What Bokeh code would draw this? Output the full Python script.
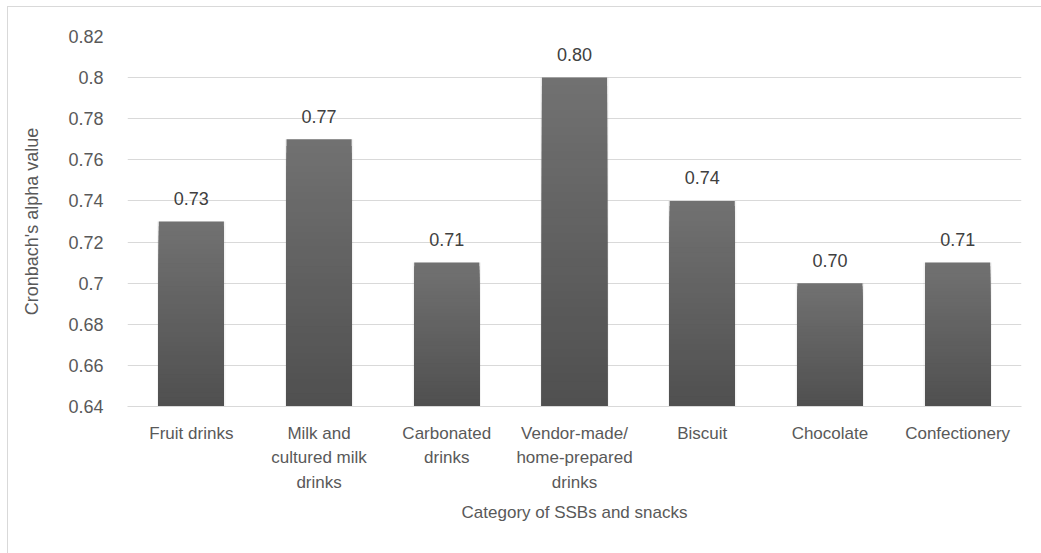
import numpy as np
from bokeh.plotting import figure
from bokeh.models import ColumnDataSource, FixedTicker, CustomJSTickFormatter, Range1d
from bokeh.core.properties import value
from bokeh.embed import file_html
from bokeh.resources import INLINE

categories = ["Fruit drinks", "Milk and\ncultured milk\ndrinks", "Carbonated\ndrinks",
              "Vendor-made/\nhome-prepared\ndrinks", "Biscuit", "Chocolate", "Confectionery"]
alpha_values = [0.73, 0.77, 0.71, 0.80, 0.74, 0.70, 0.71]
y_ticks = [0.64, 0.66, 0.68, 0.70, 0.72, 0.74, 0.76, 0.78, 0.80, 0.82]
y_min, y_max = 0.64, 0.82

FONT = "Liberation Sans"
TXT = "#595959"

p = figure(x_range=categories, y_range=Range1d(y_min, y_max), width=1033, height=546,
           output_backend="svg", toolbar_location=None,
           min_border_left=119, min_border_right=20, min_border_top=29, min_border_bottom=147)
p.margin = (7, 0, 0, 8)
p.styles = {"outline": "1px solid #d9d9d9"}
p.outline_line_color = None
p.background_fill_color = "white"
p.border_fill_color = "white"

# soft shadow
p.vbar(x=categories, top=alpha_values, bottom=y_min, width=0.535,
       fill_color="#000000", fill_alpha=0.05, line_color=None)

# gradient bars: overlapping bars from the baseline, tallest (lightest) drawn first
N = 40
vals = np.array(alpha_values)
c_bot = np.array([0x50, 0x50, 0x50])
c_top = np.array([0x72, 0x72, 0x72])
for k in range(N - 1, -1, -1):
    t = y_min + (vals - y_min) * (k + 1) / N
    f = (k + 0.5) / N
    c = (c_bot + (c_top - c_bot) * f).astype(int)
    col = "#%02x%02x%02x" % tuple(c)
    p.vbar(x=categories, top=list(t), bottom=y_min, width=0.51,
           fill_color=col, line_color=None)

src = ColumnDataSource(dict(x=categories, y=alpha_values, lab=[f"{v:.2f}" for v in alpha_values]))
p.text(x="x", y="y", text="lab", source=src, text_align="center", text_baseline="alphabetic",
       y_offset=-23, text_font=value(FONT), text_font_size="18px", text_color="#404040")

p.xgrid.grid_line_color = None
p.ygrid.grid_line_color = "#d9d9d9"
p.ygrid.grid_line_width = 1
p.yaxis.ticker = FixedTicker(ticks=y_ticks)
p.yaxis.formatter = CustomJSTickFormatter(code="return String(Number(tick.toFixed(2)));")

p.yaxis.axis_line_color = None
p.yaxis.major_tick_line_color = None
p.yaxis.minor_tick_line_color = None
p.yaxis.major_label_standoff = 18
p.yaxis.major_label_text_font = FONT
p.yaxis.major_label_text_font_size = "18px"
p.yaxis.major_label_text_color = TXT
p.yaxis.axis_label = "Cronbach's alpha value"
p.yaxis.axis_label_text_font = FONT
p.yaxis.axis_label_text_font_size = "18px"
p.yaxis.axis_label_text_font_style = "normal"
p.yaxis.axis_label_text_color = TXT
p.yaxis.axis_label_standoff = 23

p.xaxis.axis_line_color = "#d9d9d9"
p.xaxis.axis_line_width = 1
p.xaxis.major_tick_line_color = None
p.xaxis.minor_tick_line_color = None
p.xaxis.major_label_standoff = 11
p.xaxis.major_label_text_font = FONT
p.xaxis.major_label_text_font_size = "17px"
p.xaxis.major_label_text_line_height = 1.3
p.xaxis.major_label_text_color = TXT
p.xaxis.major_label_orientation = "horizontal"
p.xaxis.axis_label = "Category of SSBs and snacks"
p.xaxis.axis_label_text_font = FONT
p.xaxis.axis_label_text_font_size = "17px"
p.xaxis.axis_label_text_font_style = "normal"
p.xaxis.axis_label_text_color = TXT
p.xaxis.axis_label_standoff = 8
p.x_range.range_padding = 0

open("out.html", "w").write(file_html(p, INLINE))
